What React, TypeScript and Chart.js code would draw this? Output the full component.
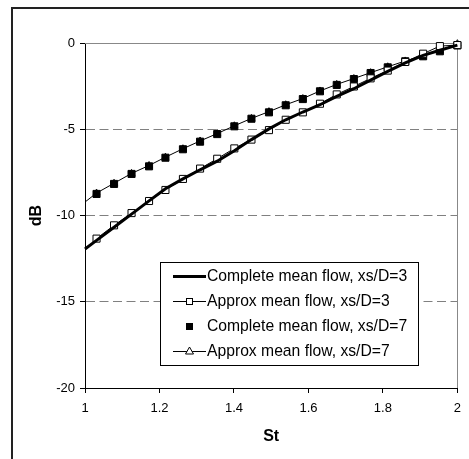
import React, { useEffect, useRef } from 'react';
import { Chart, registerables } from 'chart.js';

Chart.register(...registerables);

// ---- data ----
const stMarkers = [1.031, 1.078, 1.125, 1.172, 1.216, 1.263, 1.309, 1.355, 1.401, 1.447, 1.494, 1.539, 1.585, 1.631, 1.676, 1.722, 1.767, 1.813, 1.86, 1.908, 1.953, 2.0];
const stLines = [1.0, 1.031, 1.078, 1.125, 1.172, 1.216, 1.263, 1.309, 1.355, 1.401, 1.447, 1.494, 1.539, 1.585, 1.631, 1.676, 1.722, 1.767, 1.813, 1.86, 1.908, 1.953, 2.0];

const completeXs3 = [-11.94, -11.44, -10.68, -9.92, -9.15, -8.45, -7.88, -7.35, -6.85, -6.25, -5.6, -4.98, -4.45, -4.0, -3.58, -3.1, -2.65, -2.15, -1.65, -1.15, -0.72, -0.42, -0.12];
const approxXs3 = [-11.34, -10.57, -9.86, -9.16, -8.52, -7.88, -7.28, -6.71, -6.11, -5.6, -5.05, -4.45, -4.02, -3.52, -2.98, -2.52, -2.05, -1.6, -1.1, -0.62, -0.18, -0.12];
const completeXs7 = [-8.75, -8.17, -7.59, -7.15, -6.65, -6.16, -5.72, -5.28, -4.83, -4.39, -4.02, -3.61, -3.25, -2.8, -2.43, -2.09, -1.74, -1.41, -1.06, -0.77, -0.48, -0.14];
const approxXs7 = [-9.22, -8.7, -8.13, -7.56, -7.1, -6.62, -6.13, -5.68, -5.25, -4.8, -4.37, -3.98, -3.58, -3.22, -2.78, -2.4, -2.06, -1.72, -1.38, -1.04, -0.74, -0.44, -0.04];

const seriesLabels = [
  'Complete mean flow, xs/D=3',
  'Approx mean flow, xs/D=3',
  'Complete mean flow, xs/D=7',
  'Approx mean flow, xs/D=7',
];

const xTicks = [1, 1.2, 1.4, 1.6, 1.8, 2];
const xTickLabels = ['1', '1.2', '1.4', '1.6', '1.8', '2'];
const yTicks = [-20, -15, -10, -5, 0];
const yTickLabels = ['-20', '-15', '-10', '-5', '0'];
const xTitle = 'St';
const yTitle = 'dB';

const FONT = '"Liberation Sans", Arial, Helvetica, sans-serif';

function pts(xs: number[], ys: number[]) {
  return xs.map((x, i) => ({ x, y: ys[i] }));
}

const decorPlugin = {
  id: 'decor',
  beforeDraw(chart: any) {
    const { ctx, width, height } = chart;
    ctx.save();
    ctx.fillStyle = '#fff';
    ctx.fillRect(0, 0, width, height);
    // outer frame (cropped chart border)
    ctx.fillStyle = '#222';
    ctx.fillRect(11, 7, 2, height - 7);
    ctx.fillRect(11, 7, width - 11, 2);
    ctx.restore();
  },
  beforeDatasetsDraw(chart: any) {
    const { ctx, chartArea: a } = chart;
    ctx.save();
    ctx.strokeStyle = '#888';
    ctx.lineWidth = 1;
    ctx.beginPath();
    ctx.moveTo(a.left, Math.round(a.top) + 0.5);
    ctx.lineTo(Math.round(a.right) + 0.5, Math.round(a.top) + 0.5);
    ctx.lineTo(Math.round(a.right) + 0.5, a.bottom);
    ctx.stroke();
    ctx.restore();
  },
  afterDraw(chart: any) {
    const { ctx } = chart;
    const bx = 160, by = 262, bw = 258, bh = 103;
    ctx.save();
    ctx.fillStyle = '#fff';
    ctx.fillRect(bx, by, bw, bh);
    ctx.strokeStyle = '#000';
    ctx.lineWidth = 1;
    ctx.strokeRect(bx + 0.5, by + 0.5, bw, bh);

    const rows = [276.5, 301, 326.5, 351];
    const x0 = 173, x1 = 206, cx = 189.5, tx = 207;
    ctx.font = `15.7px ${FONT}`;
    ctx.textBaseline = 'middle';
    ctx.textAlign = 'left';
    rows.forEach((y, i) => {
      ctx.strokeStyle = '#000';
      ctx.fillStyle = '#000';
      if (i === 0) {
        ctx.lineWidth = 3;
        ctx.beginPath();
        ctx.moveTo(x0, y);
        ctx.lineTo(x1, y);
        ctx.stroke();
      } else if (i === 1) {
        ctx.lineWidth = 1;
        ctx.beginPath();
        ctx.moveTo(x0, Math.round(y) + 0.5);
        ctx.lineTo(x1, Math.round(y) + 0.5);
        ctx.stroke();
        ctx.fillStyle = '#fff';
        ctx.fillRect(cx - 3, Math.round(y) - 2.5, 6, 6);
        ctx.strokeRect(cx - 3, Math.round(y) - 2.5, 6, 6);
      } else if (i === 2) {
        ctx.fillRect(cx - 3.5, y - 3.5, 7, 7);
      } else {
        ctx.lineWidth = 1;
        ctx.beginPath();
        ctx.moveTo(x0, Math.round(y) + 0.5);
        ctx.lineTo(x1, Math.round(y) + 0.5);
        ctx.stroke();
        ctx.fillStyle = '#fff';
        ctx.beginPath();
        ctx.moveTo(cx, y - 4);
        ctx.lineTo(cx + 4, y + 3);
        ctx.lineTo(cx - 4, y + 3);
        ctx.closePath();
        ctx.fill();
        ctx.stroke();
      }
      ctx.fillStyle = '#000';
      ctx.fillText(seriesLabels[i], tx, y + 0.5);
    });
    ctx.restore();
  },
};

export default function App() {
  const ref = useRef<HTMLCanvasElement | null>(null);

  useEffect(() => {
    if (!ref.current) return;
    const chart = new Chart(ref.current, {
      type: 'scatter',
      data: {
        datasets: [
          {
            label: seriesLabels[0],
            data: pts(stLines, completeXs3),
            showLine: true,
            borderColor: '#000',
            borderWidth: 3,
            pointRadius: 0,
            tension: 0,
            clip: false,
          } as any,
          {
            label: seriesLabels[1],
            data: pts(stMarkers, approxXs3),
            showLine: true,
            borderColor: '#000',
            borderWidth: 1,
            pointStyle: 'rect',
            pointRadius: 5,
            pointBackgroundColor: '#fff',
            pointBorderColor: '#000',
            pointBorderWidth: 1,
            clip: false,
          },
          {
            label: seriesLabels[2],
            data: pts(stMarkers, completeXs7),
            showLine: false,
            pointStyle: 'rect',
            pointRadius: 5,
            pointBackgroundColor: '#000',
            pointBorderColor: '#000',
            pointBorderWidth: 1,
            clip: false,
          },
          {
            label: seriesLabels[3],
            data: pts(stLines, approxXs7),
            showLine: true,
            borderColor: '#000',
            borderWidth: 1,
            pointStyle: 'triangle',
            pointRadius: (c: any) => (c.dataIndex === 0 ? 0 : 4),
            pointBackgroundColor: '#fff',
            pointBorderColor: '#000',
            pointBorderWidth: 1,
            clip: false,
          },
        ],
      },
      options: {
        animation: false,
        responsive: false,
        devicePixelRatio: 1,
        layout: { padding: { top: 43, right: 11, left: 0, bottom: 0 } },
        plugins: {
          legend: { display: false },
          tooltip: { enabled: false },
        },
        scales: {
          x: {
            type: 'linear',
            min: 1,
            max: 2,
            afterBuildTicks: (s: any) => {
              s.ticks = xTicks.map((v) => ({ value: v }));
            },
            afterFit: (s: any) => {
              s.height = 71;
            },
            grid: { drawOnChartArea: false, tickLength: 5, tickColor: '#000' },
            border: { color: '#000', width: 1 },
            ticks: {
              color: '#000',
              font: { family: FONT, size: 13 },
              padding: 8,
              maxRotation: 0,
              callback: (_v: any, i: number) => xTickLabels[i],
            },
            title: {
              display: true,
              text: xTitle,
              color: '#000',
              font: { family: FONT, size: 16, weight: 'bold' },
              padding: { top: 0, bottom: 13 },
            },
          },
          y: {
            type: 'linear',
            min: -20,
            max: 0,
            afterBuildTicks: (s: any) => {
              s.ticks = yTicks.map((v) => ({ value: v }));
            },
            afterFit: (s: any) => {
              s.width = 85;
            },
            grid: {
              color: (c: any) =>
                c.tick && (c.tick.value === 0 || c.tick.value === -20) ? 'rgba(0,0,0,0)' : '#808080',
              tickColor: '#000',
              tickLength: 5,
              lineWidth: 1,
            },
            border: { color: '#000', width: 1, dash: [9, 4.5] },
            ticks: {
              color: '#000',
              font: { family: FONT, size: 13 },
              padding: 5,
              callback: (_v: any, i: number) => yTickLabels[i],
            },
            title: {
              display: true,
              text: yTitle,
              color: '#000',
              font: { family: FONT, size: 16, weight: 'bold' },
              padding: { top: 27, bottom: 0 },
            },
          },
        },
      },
      plugins: [decorPlugin],
    } as any);
    return () => chart.destroy();
  }, []);

  return (
    <div style={{ position: 'absolute', left: 0, top: 0, width: 469, height: 459, background: '#fff' }}>
      <canvas ref={ref} width={469} height={459} style={{ display: 'block' }} />
    </div>
  );
}
